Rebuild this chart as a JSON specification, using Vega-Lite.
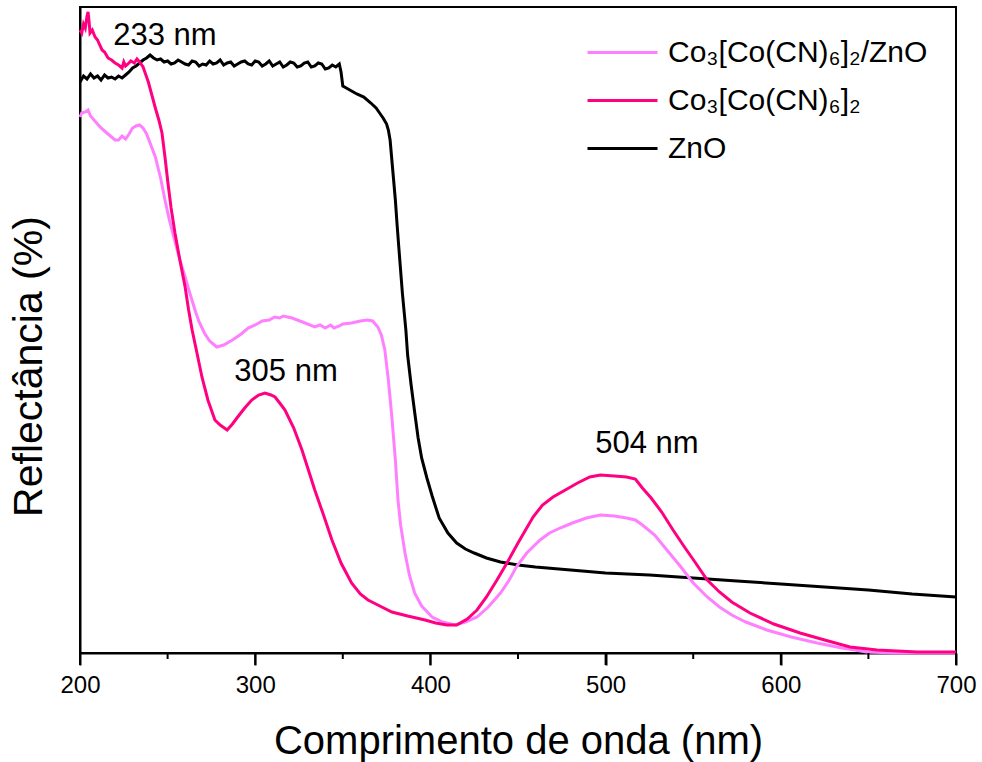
{
  "$schema": "https://vega.github.io/schema/vega-lite/v6.json",
  "width": 876,
  "height": 646,
  "autosize": {"type": "none"},
  "padding": {"left": 80, "top": 7, "right": 26, "bottom": 109},
  "background": "white",
  "config": {
    "view": {"stroke": "#000", "strokeWidth": 2},
    "font": "Liberation Sans",
    "axis": {"grid": false, "domainColor": "#000", "domainWidth": 2, "labelColor": "#000", "titleColor": "#000", "labelFont": "Liberation Sans", "titleFont": "Liberation Sans", "titleFontWeight": "normal"}
  },
  "resolve": {"axis": {"x": "independent"}},
  "datasets": {
    "spectra": [
      {"sample": "ZnO", "wl": 200, "r": 571}, {"sample": "ZnO", "wl": 202, "r": 577}, {"sample": "ZnO", "wl": 204, "r": 574}, {"sample": "ZnO", "wl": 206, "r": 579}, {"sample": "ZnO", "wl": 208, "r": 575}, {"sample": "ZnO", "wl": 210, "r": 577}, {"sample": "ZnO", "wl": 212, "r": 573}, {"sample": "ZnO", "wl": 214, "r": 578}, {"sample": "ZnO", "wl": 216, "r": 575}, {"sample": "ZnO", "wl": 218, "r": 576}, {"sample": "ZnO", "wl": 220, "r": 574}, {"sample": "ZnO", "wl": 222, "r": 577}, {"sample": "ZnO", "wl": 224, "r": 575}, {"sample": "ZnO", "wl": 226, "r": 578}, {"sample": "ZnO", "wl": 228, "r": 581}, {"sample": "ZnO", "wl": 230, "r": 585}, {"sample": "ZnO", "wl": 232, "r": 587}, {"sample": "ZnO", "wl": 234, "r": 590}, {"sample": "ZnO", "wl": 236, "r": 593}, {"sample": "ZnO", "wl": 238, "r": 595}, {"sample": "ZnO", "wl": 240, "r": 598}, {"sample": "ZnO", "wl": 242, "r": 595}, {"sample": "ZnO", "wl": 244, "r": 593}, {"sample": "ZnO", "wl": 246, "r": 594}, {"sample": "ZnO", "wl": 248, "r": 591}, {"sample": "ZnO", "wl": 250, "r": 592}, {"sample": "ZnO", "wl": 252, "r": 589}, {"sample": "ZnO", "wl": 254, "r": 590}, {"sample": "ZnO", "wl": 256, "r": 593}, {"sample": "ZnO", "wl": 258, "r": 591}, {"sample": "ZnO", "wl": 260, "r": 589}, {"sample": "ZnO", "wl": 262, "r": 588}, {"sample": "ZnO", "wl": 264, "r": 592}, {"sample": "ZnO", "wl": 266, "r": 591}, {"sample": "ZnO", "wl": 268, "r": 587}, {"sample": "ZnO", "wl": 270, "r": 589}, {"sample": "ZnO", "wl": 272, "r": 588}, {"sample": "ZnO", "wl": 274, "r": 592}, {"sample": "ZnO", "wl": 276, "r": 589}, {"sample": "ZnO", "wl": 278, "r": 590}, {"sample": "ZnO", "wl": 280, "r": 593}, {"sample": "ZnO", "wl": 282, "r": 588}, {"sample": "ZnO", "wl": 284, "r": 590}, {"sample": "ZnO", "wl": 286, "r": 591}, {"sample": "ZnO", "wl": 288, "r": 587}, {"sample": "ZnO", "wl": 290, "r": 589}, {"sample": "ZnO", "wl": 292, "r": 591}, {"sample": "ZnO", "wl": 294, "r": 592}, {"sample": "ZnO", "wl": 296, "r": 589}, {"sample": "ZnO", "wl": 298, "r": 588}, {"sample": "ZnO", "wl": 300, "r": 592}, {"sample": "ZnO", "wl": 302, "r": 591}, {"sample": "ZnO", "wl": 304, "r": 587}, {"sample": "ZnO", "wl": 306, "r": 589}, {"sample": "ZnO", "wl": 308, "r": 592}, {"sample": "ZnO", "wl": 310, "r": 587}, {"sample": "ZnO", "wl": 312, "r": 589}, {"sample": "ZnO", "wl": 314, "r": 591}, {"sample": "ZnO", "wl": 316, "r": 586}, {"sample": "ZnO", "wl": 318, "r": 588}, {"sample": "ZnO", "wl": 320, "r": 591}, {"sample": "ZnO", "wl": 322, "r": 590}, {"sample": "ZnO", "wl": 324, "r": 586}, {"sample": "ZnO", "wl": 326, "r": 587}, {"sample": "ZnO", "wl": 328, "r": 590}, {"sample": "ZnO", "wl": 330, "r": 591}, {"sample": "ZnO", "wl": 332, "r": 586}, {"sample": "ZnO", "wl": 334, "r": 587}, {"sample": "ZnO", "wl": 336, "r": 590}, {"sample": "ZnO", "wl": 338, "r": 589}, {"sample": "ZnO", "wl": 340, "r": 584}, {"sample": "ZnO", "wl": 342, "r": 585}, {"sample": "ZnO", "wl": 344, "r": 588}, {"sample": "ZnO", "wl": 346, "r": 586}, {"sample": "ZnO", "wl": 348, "r": 589}, {"sample": "ZnO", "wl": 349, "r": 581}, {"sample": "ZnO", "wl": 350, "r": 567}, {"sample": "ZnO", "wl": 352, "r": 565}, {"sample": "ZnO", "wl": 355, "r": 562}, {"sample": "ZnO", "wl": 358, "r": 559}, {"sample": "ZnO", "wl": 362, "r": 556}, {"sample": "ZnO", "wl": 366, "r": 550}, {"sample": "ZnO", "wl": 369, "r": 545}, {"sample": "ZnO", "wl": 371, "r": 540}, {"sample": "ZnO", "wl": 373, "r": 535}, {"sample": "ZnO", "wl": 375, "r": 529}, {"sample": "ZnO", "wl": 376, "r": 523}, {"sample": "ZnO", "wl": 377, "r": 513}, {"sample": "ZnO", "wl": 378, "r": 493}, {"sample": "ZnO", "wl": 379, "r": 473}, {"sample": "ZnO", "wl": 380, "r": 453}, {"sample": "ZnO", "wl": 381, "r": 428}, {"sample": "ZnO", "wl": 382, "r": 405}, {"sample": "ZnO", "wl": 384, "r": 360}, {"sample": "ZnO", "wl": 386, "r": 323}, {"sample": "ZnO", "wl": 387, "r": 298}, {"sample": "ZnO", "wl": 389, "r": 268}, {"sample": "ZnO", "wl": 391, "r": 241}, {"sample": "ZnO", "wl": 393, "r": 215}, {"sample": "ZnO", "wl": 395, "r": 195}, {"sample": "ZnO", "wl": 398, "r": 175}, {"sample": "ZnO", "wl": 401, "r": 157}, {"sample": "ZnO", "wl": 405, "r": 135}, {"sample": "ZnO", "wl": 410, "r": 120}, {"sample": "ZnO", "wl": 415, "r": 110}, {"sample": "ZnO", "wl": 420, "r": 104}, {"sample": "ZnO", "wl": 425, "r": 100}, {"sample": "ZnO", "wl": 432, "r": 95}, {"sample": "ZnO", "wl": 440, "r": 91}, {"sample": "ZnO", "wl": 450, "r": 88}, {"sample": "ZnO", "wl": 460, "r": 86}, {"sample": "ZnO", "wl": 480, "r": 83}, {"sample": "ZnO", "wl": 500, "r": 80}, {"sample": "ZnO", "wl": 525, "r": 78}, {"sample": "ZnO", "wl": 550, "r": 75}, {"sample": "ZnO", "wl": 575, "r": 72}, {"sample": "ZnO", "wl": 600, "r": 69}, {"sample": "ZnO", "wl": 625, "r": 66}, {"sample": "ZnO", "wl": 650, "r": 63}, {"sample": "ZnO", "wl": 675, "r": 59}, {"sample": "ZnO", "wl": 700, "r": 56},

      {"sample": "Co₃[Co(CN)₆]₂/ZnO", "wl": 200, "r": 536}, {"sample": "Co₃[Co(CN)₆]₂/ZnO", "wl": 201, "r": 540}, {"sample": "Co₃[Co(CN)₆]₂/ZnO", "wl": 203, "r": 541}, {"sample": "Co₃[Co(CN)₆]₂/ZnO", "wl": 204.6, "r": 543}, {"sample": "Co₃[Co(CN)₆]₂/ZnO", "wl": 206, "r": 537}, {"sample": "Co₃[Co(CN)₆]₂/ZnO", "wl": 208, "r": 533}, {"sample": "Co₃[Co(CN)₆]₂/ZnO", "wl": 210, "r": 529}, {"sample": "Co₃[Co(CN)₆]₂/ZnO", "wl": 212, "r": 525}, {"sample": "Co₃[Co(CN)₆]₂/ZnO", "wl": 214, "r": 522}, {"sample": "Co₃[Co(CN)₆]₂/ZnO", "wl": 216, "r": 519}, {"sample": "Co₃[Co(CN)₆]₂/ZnO", "wl": 218, "r": 516}, {"sample": "Co₃[Co(CN)₆]₂/ZnO", "wl": 220, "r": 513}, {"sample": "Co₃[Co(CN)₆]₂/ZnO", "wl": 222, "r": 513}, {"sample": "Co₃[Co(CN)₆]₂/ZnO", "wl": 224, "r": 517}, {"sample": "Co₃[Co(CN)₆]₂/ZnO", "wl": 226, "r": 514}, {"sample": "Co₃[Co(CN)₆]₂/ZnO", "wl": 228, "r": 519}, {"sample": "Co₃[Co(CN)₆]₂/ZnO", "wl": 230, "r": 525}, {"sample": "Co₃[Co(CN)₆]₂/ZnO", "wl": 232, "r": 527}, {"sample": "Co₃[Co(CN)₆]₂/ZnO", "wl": 234, "r": 528}, {"sample": "Co₃[Co(CN)₆]₂/ZnO", "wl": 236, "r": 525}, {"sample": "Co₃[Co(CN)₆]₂/ZnO", "wl": 238, "r": 519}, {"sample": "Co₃[Co(CN)₆]₂/ZnO", "wl": 240, "r": 510}, {"sample": "Co₃[Co(CN)₆]₂/ZnO", "wl": 243, "r": 496}, {"sample": "Co₃[Co(CN)₆]₂/ZnO", "wl": 246, "r": 475}, {"sample": "Co₃[Co(CN)₆]₂/ZnO", "wl": 248.5, "r": 453}, {"sample": "Co₃[Co(CN)₆]₂/ZnO", "wl": 251, "r": 433}, {"sample": "Co₃[Co(CN)₆]₂/ZnO", "wl": 254, "r": 413}, {"sample": "Co₃[Co(CN)₆]₂/ZnO", "wl": 257, "r": 393}, {"sample": "Co₃[Co(CN)₆]₂/ZnO", "wl": 260, "r": 376}, {"sample": "Co₃[Co(CN)₆]₂/ZnO", "wl": 263, "r": 358}, {"sample": "Co₃[Co(CN)₆]₂/ZnO", "wl": 266, "r": 341}, {"sample": "Co₃[Co(CN)₆]₂/ZnO", "wl": 268, "r": 331}, {"sample": "Co₃[Co(CN)₆]₂/ZnO", "wl": 271, "r": 320}, {"sample": "Co₃[Co(CN)₆]₂/ZnO", "wl": 274, "r": 312}, {"sample": "Co₃[Co(CN)₆]₂/ZnO", "wl": 278, "r": 306}, {"sample": "Co₃[Co(CN)₆]₂/ZnO", "wl": 282, "r": 308}, {"sample": "Co₃[Co(CN)₆]₂/ZnO", "wl": 287, "r": 313}, {"sample": "Co₃[Co(CN)₆]₂/ZnO", "wl": 292, "r": 319}, {"sample": "Co₃[Co(CN)₆]₂/ZnO", "wl": 296, "r": 325}, {"sample": "Co₃[Co(CN)₆]₂/ZnO", "wl": 300, "r": 328}, {"sample": "Co₃[Co(CN)₆]₂/ZnO", "wl": 304, "r": 332}, {"sample": "Co₃[Co(CN)₆]₂/ZnO", "wl": 308, "r": 333}, {"sample": "Co₃[Co(CN)₆]₂/ZnO", "wl": 311, "r": 336}, {"sample": "Co₃[Co(CN)₆]₂/ZnO", "wl": 314, "r": 335}, {"sample": "Co₃[Co(CN)₆]₂/ZnO", "wl": 316, "r": 337}, {"sample": "Co₃[Co(CN)₆]₂/ZnO", "wl": 321, "r": 335}, {"sample": "Co₃[Co(CN)₆]₂/ZnO", "wl": 327, "r": 331}, {"sample": "Co₃[Co(CN)₆]₂/ZnO", "wl": 334, "r": 326}, {"sample": "Co₃[Co(CN)₆]₂/ZnO", "wl": 337, "r": 328}, {"sample": "Co₃[Co(CN)₆]₂/ZnO", "wl": 340, "r": 325}, {"sample": "Co₃[Co(CN)₆]₂/ZnO", "wl": 343, "r": 328}, {"sample": "Co₃[Co(CN)₆]₂/ZnO", "wl": 345, "r": 325}, {"sample": "Co₃[Co(CN)₆]₂/ZnO", "wl": 348, "r": 327}, {"sample": "Co₃[Co(CN)₆]₂/ZnO", "wl": 350, "r": 329}, {"sample": "Co₃[Co(CN)₆]₂/ZnO", "wl": 355, "r": 330}, {"sample": "Co₃[Co(CN)₆]₂/ZnO", "wl": 360, "r": 332}, {"sample": "Co₃[Co(CN)₆]₂/ZnO", "wl": 364, "r": 333}, {"sample": "Co₃[Co(CN)₆]₂/ZnO", "wl": 367, "r": 332}, {"sample": "Co₃[Co(CN)₆]₂/ZnO", "wl": 370, "r": 326}, {"sample": "Co₃[Co(CN)₆]₂/ZnO", "wl": 372, "r": 318}, {"sample": "Co₃[Co(CN)₆]₂/ZnO", "wl": 374, "r": 303}, {"sample": "Co₃[Co(CN)₆]₂/ZnO", "wl": 376, "r": 273}, {"sample": "Co₃[Co(CN)₆]₂/ZnO", "wl": 378, "r": 236}, {"sample": "Co₃[Co(CN)₆]₂/ZnO", "wl": 380, "r": 193}, {"sample": "Co₃[Co(CN)₆]₂/ZnO", "wl": 381.5, "r": 153}, {"sample": "Co₃[Co(CN)₆]₂/ZnO", "wl": 383, "r": 128}, {"sample": "Co₃[Co(CN)₆]₂/ZnO", "wl": 385.5, "r": 100}, {"sample": "Co₃[Co(CN)₆]₂/ZnO", "wl": 388, "r": 78}, {"sample": "Co₃[Co(CN)₆]₂/ZnO", "wl": 391, "r": 60}, {"sample": "Co₃[Co(CN)₆]₂/ZnO", "wl": 395, "r": 47}, {"sample": "Co₃[Co(CN)₆]₂/ZnO", "wl": 401, "r": 36}, {"sample": "Co₃[Co(CN)₆]₂/ZnO", "wl": 407, "r": 31}, {"sample": "Co₃[Co(CN)₆]₂/ZnO", "wl": 414, "r": 28}, {"sample": "Co₃[Co(CN)₆]₂/ZnO", "wl": 420, "r": 31}, {"sample": "Co₃[Co(CN)₆]₂/ZnO", "wl": 426.6, "r": 36}, {"sample": "Co₃[Co(CN)₆]₂/ZnO", "wl": 433, "r": 46}, {"sample": "Co₃[Co(CN)₆]₂/ZnO", "wl": 440, "r": 60}, {"sample": "Co₃[Co(CN)₆]₂/ZnO", "wl": 445, "r": 73}, {"sample": "Co₃[Co(CN)₆]₂/ZnO", "wl": 449, "r": 86}, {"sample": "Co₃[Co(CN)₆]₂/ZnO", "wl": 455, "r": 100}, {"sample": "Co₃[Co(CN)₆]₂/ZnO", "wl": 462.6, "r": 113}, {"sample": "Co₃[Co(CN)₆]₂/ZnO", "wl": 468, "r": 120}, {"sample": "Co₃[Co(CN)₆]₂/ZnO", "wl": 474, "r": 125}, {"sample": "Co₃[Co(CN)₆]₂/ZnO", "wl": 481, "r": 130}, {"sample": "Co₃[Co(CN)₆]₂/ZnO", "wl": 489, "r": 135}, {"sample": "Co₃[Co(CN)₆]₂/ZnO", "wl": 497, "r": 138}, {"sample": "Co₃[Co(CN)₆]₂/ZnO", "wl": 505, "r": 137}, {"sample": "Co₃[Co(CN)₆]₂/ZnO", "wl": 512, "r": 135}, {"sample": "Co₃[Co(CN)₆]₂/ZnO", "wl": 517, "r": 133}, {"sample": "Co₃[Co(CN)₆]₂/ZnO", "wl": 521, "r": 128}, {"sample": "Co₃[Co(CN)₆]₂/ZnO", "wl": 528, "r": 118}, {"sample": "Co₃[Co(CN)₆]₂/ZnO", "wl": 535, "r": 103}, {"sample": "Co₃[Co(CN)₆]₂/ZnO", "wl": 543, "r": 86}, {"sample": "Co₃[Co(CN)₆]₂/ZnO", "wl": 550, "r": 70}, {"sample": "Co₃[Co(CN)₆]₂/ZnO", "wl": 558, "r": 56}, {"sample": "Co₃[Co(CN)₆]₂/ZnO", "wl": 565, "r": 46}, {"sample": "Co₃[Co(CN)₆]₂/ZnO", "wl": 572, "r": 38}, {"sample": "Co₃[Co(CN)₆]₂/ZnO", "wl": 580, "r": 31}, {"sample": "Co₃[Co(CN)₆]₂/ZnO", "wl": 592, "r": 23}, {"sample": "Co₃[Co(CN)₆]₂/ZnO", "wl": 606, "r": 16}, {"sample": "Co₃[Co(CN)₆]₂/ZnO", "wl": 620.7, "r": 10}, {"sample": "Co₃[Co(CN)₆]₂/ZnO", "wl": 635, "r": 5}, {"sample": "Co₃[Co(CN)₆]₂/ZnO", "wl": 649, "r": 1}, {"sample": "Co₃[Co(CN)₆]₂/ZnO", "wl": 665, "r": 0}, {"sample": "Co₃[Co(CN)₆]₂/ZnO", "wl": 700, "r": 0},

      {"sample": "Co₃[Co(CN)₆]₂", "wl": 200, "r": 623}, {"sample": "Co₃[Co(CN)₆]₂", "wl": 201, "r": 620}, {"sample": "Co₃[Co(CN)₆]₂", "wl": 202, "r": 629}, {"sample": "Co₃[Co(CN)₆]₂", "wl": 203, "r": 625}, {"sample": "Co₃[Co(CN)₆]₂", "wl": 204, "r": 637}, {"sample": "Co₃[Co(CN)₆]₂", "wl": 204.6, "r": 641}, {"sample": "Co₃[Co(CN)₆]₂", "wl": 205.2, "r": 631}, {"sample": "Co₃[Co(CN)₆]₂", "wl": 205.7, "r": 620}, {"sample": "Co₃[Co(CN)₆]₂", "wl": 207, "r": 623}, {"sample": "Co₃[Co(CN)₆]₂", "wl": 208.6, "r": 616}, {"sample": "Co₃[Co(CN)₆]₂", "wl": 210, "r": 613}, {"sample": "Co₃[Co(CN)₆]₂", "wl": 211, "r": 609}, {"sample": "Co₃[Co(CN)₆]₂", "wl": 212.6, "r": 603}, {"sample": "Co₃[Co(CN)₆]₂", "wl": 214, "r": 601}, {"sample": "Co₃[Co(CN)₆]₂", "wl": 216, "r": 595}, {"sample": "Co₃[Co(CN)₆]₂", "wl": 218, "r": 593}, {"sample": "Co₃[Co(CN)₆]₂", "wl": 220, "r": 590}, {"sample": "Co₃[Co(CN)₆]₂", "wl": 222, "r": 588}, {"sample": "Co₃[Co(CN)₆]₂", "wl": 224, "r": 585}, {"sample": "Co₃[Co(CN)₆]₂", "wl": 225, "r": 591}, {"sample": "Co₃[Co(CN)₆]₂", "wl": 226, "r": 587}, {"sample": "Co₃[Co(CN)₆]₂", "wl": 227.4, "r": 589}, {"sample": "Co₃[Co(CN)₆]₂", "wl": 229, "r": 592}, {"sample": "Co₃[Co(CN)₆]₂", "wl": 231, "r": 590}, {"sample": "Co₃[Co(CN)₆]₂", "wl": 232.5, "r": 594}, {"sample": "Co₃[Co(CN)₆]₂", "wl": 234, "r": 591}, {"sample": "Co₃[Co(CN)₆]₂", "wl": 236, "r": 586}, {"sample": "Co₃[Co(CN)₆]₂", "wl": 237, "r": 581}, {"sample": "Co₃[Co(CN)₆]₂", "wl": 239, "r": 571}, {"sample": "Co₃[Co(CN)₆]₂", "wl": 241, "r": 558}, {"sample": "Co₃[Co(CN)₆]₂", "wl": 243, "r": 545}, {"sample": "Co₃[Co(CN)₆]₂", "wl": 245, "r": 533}, {"sample": "Co₃[Co(CN)₆]₂", "wl": 246.8, "r": 520}, {"sample": "Co₃[Co(CN)₆]₂", "wl": 248.5, "r": 496}, {"sample": "Co₃[Co(CN)₆]₂", "wl": 250.2, "r": 470}, {"sample": "Co₃[Co(CN)₆]₂", "wl": 252, "r": 445}, {"sample": "Co₃[Co(CN)₆]₂", "wl": 254.2, "r": 420}, {"sample": "Co₃[Co(CN)₆]₂", "wl": 257, "r": 393}, {"sample": "Co₃[Co(CN)₆]₂", "wl": 260, "r": 366}, {"sample": "Co₃[Co(CN)₆]₂", "wl": 262, "r": 343}, {"sample": "Co₃[Co(CN)₆]₂", "wl": 264, "r": 323}, {"sample": "Co₃[Co(CN)₆]₂", "wl": 267, "r": 298}, {"sample": "Co₃[Co(CN)₆]₂", "wl": 269.6, "r": 276}, {"sample": "Co₃[Co(CN)₆]₂", "wl": 273, "r": 253}, {"sample": "Co₃[Co(CN)₆]₂", "wl": 277, "r": 233}, {"sample": "Co₃[Co(CN)₆]₂", "wl": 280, "r": 228}, {"sample": "Co₃[Co(CN)₆]₂", "wl": 284, "r": 223}, {"sample": "Co₃[Co(CN)₆]₂", "wl": 287, "r": 229}, {"sample": "Co₃[Co(CN)₆]₂", "wl": 290, "r": 236}, {"sample": "Co₃[Co(CN)₆]₂", "wl": 294, "r": 245}, {"sample": "Co₃[Co(CN)₆]₂", "wl": 298, "r": 253}, {"sample": "Co₃[Co(CN)₆]₂", "wl": 302, "r": 258}, {"sample": "Co₃[Co(CN)₆]₂", "wl": 305.6, "r": 260}, {"sample": "Co₃[Co(CN)₆]₂", "wl": 309, "r": 258}, {"sample": "Co₃[Co(CN)₆]₂", "wl": 311.3, "r": 256}, {"sample": "Co₃[Co(CN)₆]₂", "wl": 314, "r": 250}, {"sample": "Co₃[Co(CN)₆]₂", "wl": 317, "r": 243}, {"sample": "Co₃[Co(CN)₆]₂", "wl": 322, "r": 225}, {"sample": "Co₃[Co(CN)₆]₂", "wl": 326.7, "r": 203}, {"sample": "Co₃[Co(CN)₆]₂", "wl": 330, "r": 185}, {"sample": "Co₃[Co(CN)₆]₂", "wl": 334, "r": 163}, {"sample": "Co₃[Co(CN)₆]₂", "wl": 339, "r": 138}, {"sample": "Co₃[Co(CN)₆]₂", "wl": 343.8, "r": 113}, {"sample": "Co₃[Co(CN)₆]₂", "wl": 349, "r": 90}, {"sample": "Co₃[Co(CN)₆]₂", "wl": 355, "r": 70}, {"sample": "Co₃[Co(CN)₆]₂", "wl": 360, "r": 59}, {"sample": "Co₃[Co(CN)₆]₂", "wl": 364.4, "r": 53}, {"sample": "Co₃[Co(CN)₆]₂", "wl": 370, "r": 48}, {"sample": "Co₃[Co(CN)₆]₂", "wl": 378, "r": 41}, {"sample": "Co₃[Co(CN)₆]₂", "wl": 387, "r": 37}, {"sample": "Co₃[Co(CN)₆]₂", "wl": 397, "r": 33}, {"sample": "Co₃[Co(CN)₆]₂", "wl": 403, "r": 30}, {"sample": "Co₃[Co(CN)₆]₂", "wl": 409.5, "r": 28}, {"sample": "Co₃[Co(CN)₆]₂", "wl": 415, "r": 28}, {"sample": "Co₃[Co(CN)₆]₂", "wl": 421, "r": 34}, {"sample": "Co₃[Co(CN)₆]₂", "wl": 426.6, "r": 43}, {"sample": "Co₃[Co(CN)₆]₂", "wl": 432, "r": 56}, {"sample": "Co₃[Co(CN)₆]₂", "wl": 438, "r": 73}, {"sample": "Co₃[Co(CN)₆]₂", "wl": 443.7, "r": 90}, {"sample": "Co₃[Co(CN)₆]₂", "wl": 450, "r": 110}, {"sample": "Co₃[Co(CN)₆]₂", "wl": 458.6, "r": 136}, {"sample": "Co₃[Co(CN)₆]₂", "wl": 464, "r": 148}, {"sample": "Co₃[Co(CN)₆]₂", "wl": 470, "r": 156}, {"sample": "Co₃[Co(CN)₆]₂", "wl": 477, "r": 163}, {"sample": "Co₃[Co(CN)₆]₂", "wl": 484, "r": 170}, {"sample": "Co₃[Co(CN)₆]₂", "wl": 491, "r": 176}, {"sample": "Co₃[Co(CN)₆]₂", "wl": 497, "r": 178}, {"sample": "Co₃[Co(CN)₆]₂", "wl": 505, "r": 177}, {"sample": "Co₃[Co(CN)₆]₂", "wl": 512, "r": 176}, {"sample": "Co₃[Co(CN)₆]₂", "wl": 517, "r": 174}, {"sample": "Co₃[Co(CN)₆]₂", "wl": 521, "r": 165}, {"sample": "Co₃[Co(CN)₆]₂", "wl": 526, "r": 155}, {"sample": "Co₃[Co(CN)₆]₂", "wl": 532, "r": 141}, {"sample": "Co₃[Co(CN)₆]₂", "wl": 538.5, "r": 123}, {"sample": "Co₃[Co(CN)₆]₂", "wl": 545, "r": 106}, {"sample": "Co₃[Co(CN)₆]₂", "wl": 551, "r": 91}, {"sample": "Co₃[Co(CN)₆]₂", "wl": 558, "r": 73}, {"sample": "Co₃[Co(CN)₆]₂", "wl": 565, "r": 61}, {"sample": "Co₃[Co(CN)₆]₂", "wl": 572, "r": 51}, {"sample": "Co₃[Co(CN)₆]₂", "wl": 582.4, "r": 40}, {"sample": "Co₃[Co(CN)₆]₂", "wl": 596, "r": 29}, {"sample": "Co₃[Co(CN)₆]₂", "wl": 611, "r": 20}, {"sample": "Co₃[Co(CN)₆]₂", "wl": 625, "r": 13}, {"sample": "Co₃[Co(CN)₆]₂", "wl": 639.5, "r": 6}, {"sample": "Co₃[Co(CN)₆]₂", "wl": 655, "r": 3}, {"sample": "Co₃[Co(CN)₆]₂", "wl": 678, "r": 1}, {"sample": "Co₃[Co(CN)₆]₂", "wl": 700, "r": 1}
    ],
    "notes": [
      {"label": "233 nm", "wl": 248.5, "r": 617},
      {"label": "305 nm", "wl": 317.6, "r": 281},
      {"label": "504 nm", "wl": 523.6, "r": 209}
    ],
    "majorTicks": [{"wl": 200}, {"wl": 300}, {"wl": 400}, {"wl": 500}, {"wl": 600}, {"wl": 700}],
    "minorTicks": [{"wl": 250}, {"wl": 350}, {"wl": 450}, {"wl": 550}, {"wl": 650}]
  },
  "layer": [
    {
      "data": {"name": "spectra"},
      "mark": {"type": "line", "strokeWidth": 3},
      "encoding": {
        "x": {"field": "wl", "type": "quantitative", "scale": {"domain": [200, 700], "nice": false},
          "axis": {"orient": "bottom", "values": [200, 300, 400, 500, 600, 700], "tickSize": 12, "tickColor": "#000", "tickWidth": 2, "labelFlush": false, "labelFontSize": 24, "labelPadding": 8, "title": "Comprimento de onda (nm)", "titleFontSize": 40, "titlePadding": 24}},
        "y": {"field": "r", "type": "quantitative", "scale": {"domain": [0, 646], "nice": false, "zero": false},
          "axis": {"ticks": false, "labels": false, "title": "Reflectância (%)", "titleFontSize": 41, "titlePadding": 30, "titleY": 359}},
        "color": {"field": "sample", "type": "nominal",
          "scale": {"domain": ["Co₃[Co(CN)₆]₂/ZnO", "Co₃[Co(CN)₆]₂", "ZnO"], "range": ["#FF80FF", "#FF0080", "#000000"]},
          "legend": {"title": null, "orient": "none", "legendX": 516, "legendY": 19, "padding": 0, "symbolType": "M-1.4,0H1.4", "symbolSize": 2500, "symbolStrokeWidth": 3, "labelFontSize": 30, "labelFont": "Liberation Sans", "labelColor": "#000", "labelOffset": 19, "rowPadding": 6, "labelLimit": 400}}
      }
    },
    {
      "data": {"name": "notes"},
      "mark": {"type": "text", "fontSize": 31, "font": "Liberation Sans", "color": "#000", "align": "center", "baseline": "middle"},
      "encoding": {
        "x": {"field": "wl", "type": "quantitative", "axis": null},
        "y": {"field": "r", "type": "quantitative"},
        "text": {"field": "label"}
      }
    },
    {
      "data": {"name": "majorTicks"},
      "mark": {"type": "rule", "color": "#000", "strokeWidth": 2},
      "encoding": {
        "x": {"field": "wl", "type": "quantitative", "axis": null},
        "y": {"datum": 0, "type": "quantitative"},
        "y2": {"datum": -12}
      }
    },
    {
      "data": {"name": "minorTicks"},
      "mark": {"type": "rule", "color": "#000", "strokeWidth": 2},
      "encoding": {
        "x": {"field": "wl", "type": "quantitative", "axis": null},
        "y": {"datum": 0, "type": "quantitative"},
        "y2": {"datum": -6}
      }
    }
  ]
}
